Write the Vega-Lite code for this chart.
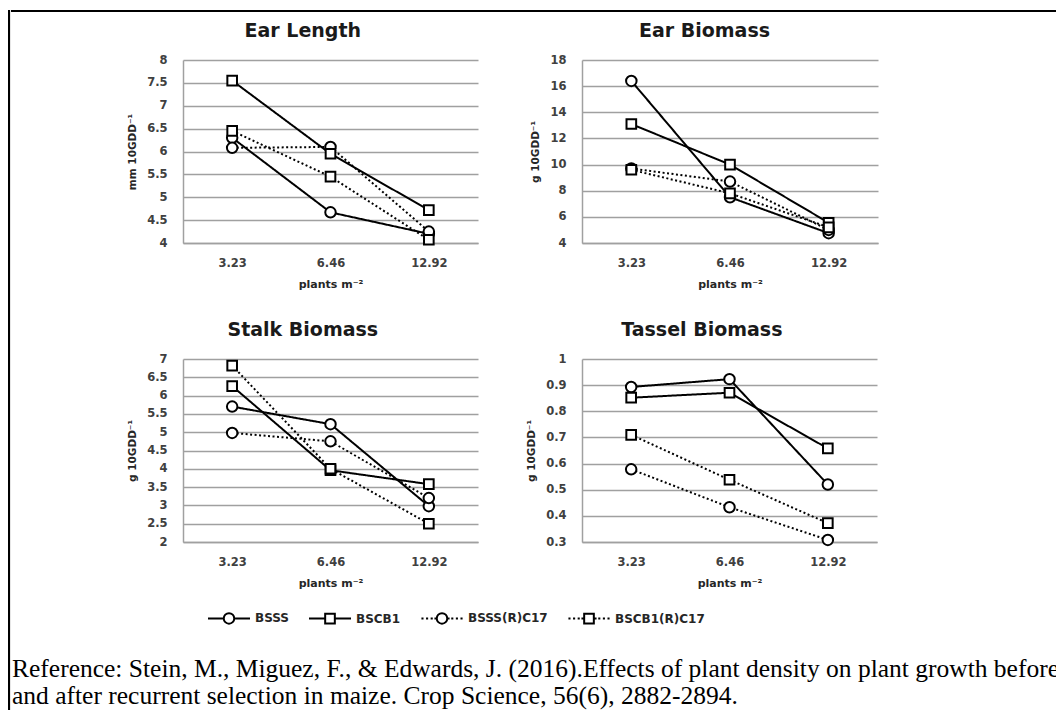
{
  "$schema": "https://vega.github.io/schema/vega-lite/v6.json",
  "padding": {"left": 8, "top": 10, "right": 0, "bottom": 0},
  "background": "white",
  "data": {"values": [
    {"panel": "Ear Length", "density": 3.23, "series": "BSSS", "value": 6.3},
    {"panel": "Ear Length", "density": 6.46, "series": "BSSS", "value": 4.67},
    {"panel": "Ear Length", "density": 12.92, "series": "BSSS", "value": 4.2},
    {"panel": "Ear Length", "density": 3.23, "series": "BSCB1", "value": 7.55},
    {"panel": "Ear Length", "density": 6.46, "series": "BSCB1", "value": 5.95},
    {"panel": "Ear Length", "density": 12.92, "series": "BSCB1", "value": 4.72},
    {"panel": "Ear Length", "density": 3.23, "series": "BSSS(R)C17", "value": 6.08},
    {"panel": "Ear Length", "density": 6.46, "series": "BSSS(R)C17", "value": 6.1},
    {"panel": "Ear Length", "density": 12.92, "series": "BSSS(R)C17", "value": 4.25},
    {"panel": "Ear Length", "density": 3.23, "series": "BSCB1(R)C17", "value": 6.45},
    {"panel": "Ear Length", "density": 6.46, "series": "BSCB1(R)C17", "value": 5.45},
    {"panel": "Ear Length", "density": 12.92, "series": "BSCB1(R)C17", "value": 4.07},
    {"panel": "Ear Biomass", "density": 3.23, "series": "BSSS", "value": 16.4},
    {"panel": "Ear Biomass", "density": 6.46, "series": "BSSS", "value": 7.5},
    {"panel": "Ear Biomass", "density": 12.92, "series": "BSSS", "value": 4.75},
    {"panel": "Ear Biomass", "density": 3.23, "series": "BSCB1", "value": 13.1},
    {"panel": "Ear Biomass", "density": 6.46, "series": "BSCB1", "value": 10.0},
    {"panel": "Ear Biomass", "density": 12.92, "series": "BSCB1", "value": 5.55},
    {"panel": "Ear Biomass", "density": 3.23, "series": "BSSS(R)C17", "value": 9.7},
    {"panel": "Ear Biomass", "density": 6.46, "series": "BSSS(R)C17", "value": 8.7},
    {"panel": "Ear Biomass", "density": 12.92, "series": "BSSS(R)C17", "value": 5.0},
    {"panel": "Ear Biomass", "density": 3.23, "series": "BSCB1(R)C17", "value": 9.6},
    {"panel": "Ear Biomass", "density": 6.46, "series": "BSCB1(R)C17", "value": 7.8},
    {"panel": "Ear Biomass", "density": 12.92, "series": "BSCB1(R)C17", "value": 5.2},
    {"panel": "Stalk Biomass", "density": 3.23, "series": "BSSS", "value": 5.7},
    {"panel": "Stalk Biomass", "density": 6.46, "series": "BSSS", "value": 5.22},
    {"panel": "Stalk Biomass", "density": 12.92, "series": "BSSS", "value": 2.98},
    {"panel": "Stalk Biomass", "density": 3.23, "series": "BSCB1", "value": 6.26},
    {"panel": "Stalk Biomass", "density": 6.46, "series": "BSCB1", "value": 3.96},
    {"panel": "Stalk Biomass", "density": 12.92, "series": "BSCB1", "value": 3.58},
    {"panel": "Stalk Biomass", "density": 3.23, "series": "BSSS(R)C17", "value": 4.98},
    {"panel": "Stalk Biomass", "density": 6.46, "series": "BSSS(R)C17", "value": 4.75},
    {"panel": "Stalk Biomass", "density": 12.92, "series": "BSSS(R)C17", "value": 3.2},
    {"panel": "Stalk Biomass", "density": 3.23, "series": "BSCB1(R)C17", "value": 6.82},
    {"panel": "Stalk Biomass", "density": 6.46, "series": "BSCB1(R)C17", "value": 4.0},
    {"panel": "Stalk Biomass", "density": 12.92, "series": "BSCB1(R)C17", "value": 2.5},
    {"panel": "Tassel Biomass", "density": 3.23, "series": "BSSS", "value": 0.893},
    {"panel": "Tassel Biomass", "density": 6.46, "series": "BSSS", "value": 0.923},
    {"panel": "Tassel Biomass", "density": 12.92, "series": "BSSS", "value": 0.52},
    {"panel": "Tassel Biomass", "density": 3.23, "series": "BSCB1", "value": 0.852},
    {"panel": "Tassel Biomass", "density": 6.46, "series": "BSCB1", "value": 0.871},
    {"panel": "Tassel Biomass", "density": 12.92, "series": "BSCB1", "value": 0.658},
    {"panel": "Tassel Biomass", "density": 3.23, "series": "BSSS(R)C17", "value": 0.578},
    {"panel": "Tassel Biomass", "density": 6.46, "series": "BSSS(R)C17", "value": 0.433},
    {"panel": "Tassel Biomass", "density": 12.92, "series": "BSSS(R)C17", "value": 0.308},
    {"panel": "Tassel Biomass", "density": 3.23, "series": "BSCB1(R)C17", "value": 0.71},
    {"panel": "Tassel Biomass", "density": 6.46, "series": "BSCB1(R)C17", "value": 0.538},
    {"panel": "Tassel Biomass", "density": 12.92, "series": "BSCB1(R)C17", "value": 0.372}
  ]},
  "config": {
    "view": {"stroke": null},
    "font": "DejaVu Sans",
    "title": {"font": "DejaVu Sans", "fontSize": 19, "fontWeight": "bold", "color": "#1a1a1a", "frame": "bounds", "anchor": "middle", "offset": 13},
    "axis": {"labelFont": "DejaVu Sans", "labelFontSize": 11.5, "labelFontWeight": "bold", "labelColor": "#404040", "titleFont": "DejaVu Sans", "titleFontWeight": "bold", "titleColor": "#262626", "ticks": false, "tickSize": 0, "domainColor": "#a0a0a0", "domainWidth": 1.5},
    "axisX": {"labelAngle": 0, "labelPadding": 14, "titleFontSize": 11, "titlePadding": 10, "grid": false},
    "axisY": {"labelPadding": 16, "titleFontSize": 10.5, "titlePadding": 9, "grid": true, "gridColor": "#a0a0a0", "gridWidth": 1.5}
  },
  "spacing": 0,
  "hconcat": [
    {
      "width": 0.1, "height": 702,
      "data": {"values": []},
      "mark": {"type": "point", "opacity": 0},
      "view": {"stroke": "black", "strokeWidth": 2, "fill": null}
    },
    {
      "spacing": 9,
      "vconcat": [
        {
          "width": 1050, "height": 0.1,
          "data": {"values": []},
          "mark": {"type": "point", "opacity": 0},
          "view": {"stroke": "black", "strokeWidth": 2, "fill": null}
        },
        {
          "title": {
            "text": ["Reference: Stein, M., Miguez, F., & Edwards, J. (2016).Effects of plant density on plant growth before", "and after recurrent selection in maize. Crop Science, 56(6), 2882-2894."],
            "orient": "bottom", "anchor": "start", "frame": "bounds",
            "font": "Liberation Serif", "fontSize": 25.5, "fontWeight": "normal", "color": "black",
            "lineHeight": 27, "offset": 68, "dx": 0, "baseline": "top"
          },
          "spacing": 114,
          "hconcat": [
            {
              "width": 1, "height": 1,
              "data": {"values": []},
              "mark": {"type": "point", "opacity": 0}
            },
            {
              "columns": 2,
              "spacing": {"row": 31, "column": 48},
              "concat": [
                {
                  "title": "Ear Length",
                  "width": 295, "height": 183,
                  "transform": [{"filter": "datum.panel === 'Ear Length'"}],
                  "encoding": {
                    "x": {"field": "density", "type": "ordinal", "axis": {"title": "plants m⁻²"}},
                    "y": {"field": "value", "type": "quantitative", "scale": {"domain": [4, 8], "nice": false, "zero": false}, "axis": {"title": "mm 10GDD⁻¹", "values": [4, 4.5, 5, 5.5, 6, 6.5, 7, 7.5, 8], "format": ".1~f"}}
                  },
                  "layer": [
                    {"mark": {"type": "line", "color": "black", "strokeWidth": 2},
                     "encoding": {"strokeDash": {"field": "series", "type": "nominal", "scale": {"domain": ["BSSS", "BSCB1", "BSSS(R)C17", "BSCB1(R)C17"], "range": [[1, 0], [1, 0], [2, 2.5], [2, 2.5]]}, "legend": null}}},
                    {"transform": [{"filter": "indexof(datum.series, 'BSSS') === 0"}],
                     "mark": {"type": "point", "shape": "circle", "filled": true, "fill": "white", "stroke": "black", "strokeWidth": 2, "size": 110, "opacity": 1}},
                    {"transform": [{"filter": "indexof(datum.series, 'BSCB1') === 0"}],
                     "mark": {"type": "point", "shape": "square", "filled": true, "fill": "white", "stroke": "black", "strokeWidth": 2, "size": 93, "opacity": 1}},
                    {"mark": {"type": "point", "filled": false, "color": "black", "strokeWidth": 2, "size": 1764, "opacity": 0},
                     "encoding": {"shape": {"field": "series", "type": "nominal", "sort": ["BSSS", "BSCB1", "BSSS(R)C17", "BSCB1(R)C17"], "scale": {"range": ["M-1,0H-0.25M0.25,0H1M0.25,0A0.25,0.25,0,1,1,-0.25,0A0.25,0.25,0,1,1,0.25,0Z", "M-1,0H-0.23M0.23,0H1M-0.23,-0.23H0.23V0.23H-0.23Z", "M-0.98,0H-0.88M-0.76,0H-0.66M-0.54,0H-0.44M-0.36,0H-0.27M0.27,0H0.36M0.44,0H0.54M0.66,0H0.76M0.88,0H0.98M0.25,0A0.25,0.25,0,1,1,-0.25,0A0.25,0.25,0,1,1,0.25,0Z", "M-0.98,0H-0.88M-0.76,0H-0.66M-0.54,0H-0.44M-0.36,0H-0.27M0.27,0H0.36M0.44,0H0.54M0.66,0H0.76M0.88,0H0.98M-0.23,-0.23H0.23V0.23H-0.23Z"]},
                       "legend": {"orient": "none", "legendX": 198, "legendY": 585, "direction": "horizontal", "title": null, "symbolSize": 1764, "symbolStrokeWidth": 2, "symbolStrokeColor": "black", "symbolOpacity": 1, "labelFont": "DejaVu Sans", "labelFontSize": 12, "labelFontWeight": "bold", "labelColor": "#262626", "labelOffset": 4, "columnPadding": 16}}}}
                  ]
                },
                {
                  "title": "Ear Biomass",
                  "width": 296, "height": 183,
                  "transform": [{"filter": "datum.panel === 'Ear Biomass'"}],
                  "encoding": {
                    "x": {"field": "density", "type": "ordinal", "axis": {"title": "plants m⁻²"}},
                    "y": {"field": "value", "type": "quantitative", "scale": {"domain": [4, 18], "nice": false, "zero": false}, "axis": {"title": "g 10GDD⁻¹", "values": [4, 6, 8, 10, 12, 14, 16, 18], "format": ".1~f"}}
                  },
                  "layer": [
                    {"mark": {"type": "line", "color": "black", "strokeWidth": 2},
                     "encoding": {"strokeDash": {"field": "series", "type": "nominal", "scale": {"domain": ["BSSS", "BSCB1", "BSSS(R)C17", "BSCB1(R)C17"], "range": [[1, 0], [1, 0], [2, 2.5], [2, 2.5]]}, "legend": null}}},
                    {"transform": [{"filter": "indexof(datum.series, 'BSSS') === 0"}],
                     "mark": {"type": "point", "shape": "circle", "filled": true, "fill": "white", "stroke": "black", "strokeWidth": 2, "size": 110, "opacity": 1}},
                    {"transform": [{"filter": "indexof(datum.series, 'BSCB1') === 0"}],
                     "mark": {"type": "point", "shape": "square", "filled": true, "fill": "white", "stroke": "black", "strokeWidth": 2, "size": 93, "opacity": 1}},
                    {"mark": {"type": "point", "filled": false, "color": "black", "strokeWidth": 2, "size": 1764, "opacity": 0},
                     "encoding": {"shape": {"field": "series", "type": "nominal", "sort": ["BSSS", "BSCB1", "BSSS(R)C17", "BSCB1(R)C17"], "scale": {"range": ["M-1,0H-0.25M0.25,0H1M0.25,0A0.25,0.25,0,1,1,-0.25,0A0.25,0.25,0,1,1,0.25,0Z", "M-1,0H-0.23M0.23,0H1M-0.23,-0.23H0.23V0.23H-0.23Z", "M-0.98,0H-0.88M-0.76,0H-0.66M-0.54,0H-0.44M-0.36,0H-0.27M0.27,0H0.36M0.44,0H0.54M0.66,0H0.76M0.88,0H0.98M0.25,0A0.25,0.25,0,1,1,-0.25,0A0.25,0.25,0,1,1,0.25,0Z", "M-0.98,0H-0.88M-0.76,0H-0.66M-0.54,0H-0.44M-0.36,0H-0.27M0.27,0H0.36M0.44,0H0.54M0.66,0H0.76M0.88,0H0.98M-0.23,-0.23H0.23V0.23H-0.23Z"]},
                       "legend": {"orient": "none", "legendX": 198, "legendY": 585, "direction": "horizontal", "title": null, "symbolSize": 1764, "symbolStrokeWidth": 2, "symbolStrokeColor": "black", "symbolOpacity": 1, "labelFont": "DejaVu Sans", "labelFontSize": 12, "labelFontWeight": "bold", "labelColor": "#262626", "labelOffset": 4, "columnPadding": 16}}}}
                  ]
                },
                {
                  "title": "Stalk Biomass",
                  "width": 295, "height": 183,
                  "transform": [{"filter": "datum.panel === 'Stalk Biomass'"}],
                  "encoding": {
                    "x": {"field": "density", "type": "ordinal", "axis": {"title": "plants m⁻²"}},
                    "y": {"field": "value", "type": "quantitative", "scale": {"domain": [2, 7], "nice": false, "zero": false}, "axis": {"title": "g 10GDD⁻¹", "values": [2, 2.5, 3, 3.5, 4, 4.5, 5, 5.5, 6, 6.5, 7], "format": ".1~f"}}
                  },
                  "layer": [
                    {"mark": {"type": "line", "color": "black", "strokeWidth": 2},
                     "encoding": {"strokeDash": {"field": "series", "type": "nominal", "scale": {"domain": ["BSSS", "BSCB1", "BSSS(R)C17", "BSCB1(R)C17"], "range": [[1, 0], [1, 0], [2, 2.5], [2, 2.5]]}, "legend": null}}},
                    {"transform": [{"filter": "indexof(datum.series, 'BSSS') === 0"}],
                     "mark": {"type": "point", "shape": "circle", "filled": true, "fill": "white", "stroke": "black", "strokeWidth": 2, "size": 110, "opacity": 1}},
                    {"transform": [{"filter": "indexof(datum.series, 'BSCB1') === 0"}],
                     "mark": {"type": "point", "shape": "square", "filled": true, "fill": "white", "stroke": "black", "strokeWidth": 2, "size": 93, "opacity": 1}},
                    {"mark": {"type": "point", "filled": false, "color": "black", "strokeWidth": 2, "size": 1764, "opacity": 0},
                     "encoding": {"shape": {"field": "series", "type": "nominal", "sort": ["BSSS", "BSCB1", "BSSS(R)C17", "BSCB1(R)C17"], "scale": {"range": ["M-1,0H-0.25M0.25,0H1M0.25,0A0.25,0.25,0,1,1,-0.25,0A0.25,0.25,0,1,1,0.25,0Z", "M-1,0H-0.23M0.23,0H1M-0.23,-0.23H0.23V0.23H-0.23Z", "M-0.98,0H-0.88M-0.76,0H-0.66M-0.54,0H-0.44M-0.36,0H-0.27M0.27,0H0.36M0.44,0H0.54M0.66,0H0.76M0.88,0H0.98M0.25,0A0.25,0.25,0,1,1,-0.25,0A0.25,0.25,0,1,1,0.25,0Z", "M-0.98,0H-0.88M-0.76,0H-0.66M-0.54,0H-0.44M-0.36,0H-0.27M0.27,0H0.36M0.44,0H0.54M0.66,0H0.76M0.88,0H0.98M-0.23,-0.23H0.23V0.23H-0.23Z"]},
                       "legend": {"orient": "none", "legendX": 198, "legendY": 585, "direction": "horizontal", "title": null, "symbolSize": 1764, "symbolStrokeWidth": 2, "symbolStrokeColor": "black", "symbolOpacity": 1, "labelFont": "DejaVu Sans", "labelFontSize": 12, "labelFontWeight": "bold", "labelColor": "#262626", "labelOffset": 4, "columnPadding": 16}}}}
                  ]
                },
                {
                  "title": "Tassel Biomass",
                  "width": 295, "height": 183,
                  "transform": [{"filter": "datum.panel === 'Tassel Biomass'"}],
                  "encoding": {
                    "x": {"field": "density", "type": "ordinal", "axis": {"title": "plants m⁻²"}},
                    "y": {"field": "value", "type": "quantitative", "scale": {"domain": [0.3, 1], "nice": false, "zero": false}, "axis": {"title": "g 10GDD⁻¹", "values": [0.3, 0.4, 0.5, 0.6, 0.7, 0.8, 0.9, 1], "format": ".1~f"}}
                  },
                  "layer": [
                    {"mark": {"type": "line", "color": "black", "strokeWidth": 2},
                     "encoding": {"strokeDash": {"field": "series", "type": "nominal", "scale": {"domain": ["BSSS", "BSCB1", "BSSS(R)C17", "BSCB1(R)C17"], "range": [[1, 0], [1, 0], [2, 2.5], [2, 2.5]]}, "legend": null}}},
                    {"transform": [{"filter": "indexof(datum.series, 'BSSS') === 0"}],
                     "mark": {"type": "point", "shape": "circle", "filled": true, "fill": "white", "stroke": "black", "strokeWidth": 2, "size": 110, "opacity": 1}},
                    {"transform": [{"filter": "indexof(datum.series, 'BSCB1') === 0"}],
                     "mark": {"type": "point", "shape": "square", "filled": true, "fill": "white", "stroke": "black", "strokeWidth": 2, "size": 93, "opacity": 1}},
                    {"mark": {"type": "point", "filled": false, "color": "black", "strokeWidth": 2, "size": 1764, "opacity": 0},
                     "encoding": {"shape": {"field": "series", "type": "nominal", "sort": ["BSSS", "BSCB1", "BSSS(R)C17", "BSCB1(R)C17"], "scale": {"range": ["M-1,0H-0.25M0.25,0H1M0.25,0A0.25,0.25,0,1,1,-0.25,0A0.25,0.25,0,1,1,0.25,0Z", "M-1,0H-0.23M0.23,0H1M-0.23,-0.23H0.23V0.23H-0.23Z", "M-0.98,0H-0.88M-0.76,0H-0.66M-0.54,0H-0.44M-0.36,0H-0.27M0.27,0H0.36M0.44,0H0.54M0.66,0H0.76M0.88,0H0.98M0.25,0A0.25,0.25,0,1,1,-0.25,0A0.25,0.25,0,1,1,0.25,0Z", "M-0.98,0H-0.88M-0.76,0H-0.66M-0.54,0H-0.44M-0.36,0H-0.27M0.27,0H0.36M0.44,0H0.54M0.66,0H0.76M0.88,0H0.98M-0.23,-0.23H0.23V0.23H-0.23Z"]},
                       "legend": {"orient": "none", "legendX": 198, "legendY": 585, "direction": "horizontal", "title": null, "symbolSize": 1764, "symbolStrokeWidth": 2, "symbolStrokeColor": "black", "symbolOpacity": 1, "labelFont": "DejaVu Sans", "labelFontSize": 12, "labelFontWeight": "bold", "labelColor": "#262626", "labelOffset": 4, "columnPadding": 16}}}}
                  ]
                }
              ]
            }
          ]
        }
      ]
    }
  ]
}
